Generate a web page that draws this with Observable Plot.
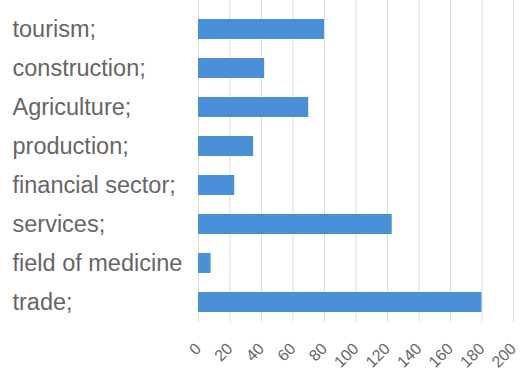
<!DOCTYPE html>
<html>
<head>
<meta charset="utf-8">
<script src="https://cdn.jsdelivr.net/npm/d3@7"></script>
<script src="https://cdn.jsdelivr.net/npm/@observablehq/plot@0.6"></script>
<style>
  html, body { margin: 0; padding: 0; background: #fff; }
  #chart svg { display: block; }
</style>
</head>
<body>
<div id="chart"></div>
<script>
const categories = ["tourism;", "construction;", "Agriculture;", "production;", "financial sector;", "services;", "field of medicine", "trade;"];
const values = [80, 42, 70, 35, 23, 123, 8, 180];
const xTicks = [0, 20, 40, 60, 80, 100, 120, 140, 160, 180, 200];

const data = categories.map((c, i) => ({category: c, value: values[i]}));

const chart = Plot.plot({
  width: 520,
  height: 370,
  marginTop: 0,
  marginLeft: 198,
  marginRight: 7,
  marginBottom: 48.5,
  style: {fontFamily: "'Liberation Sans', Arial, sans-serif", background: "#fff"},
  x: {domain: [0, 200]},
  y: {domain: categories, paddingInner: 0.5, paddingOuter: 0.25, insetTop: 8},
  marks: [
    Plot.gridX(xTicks, {stroke: "#dcdcdc", strokeOpacity: 1, strokeWidth: 1}),
    Plot.barX(data, {x: "value", y: "category", fill: "#4a90d9"}),
    Plot.axisX({ticks: xTicks, tickSize: 0, tickPadding: 24, tickRotate: -45, fontSize: 16, fill: "#666666", label: null}),
    Plot.axisY({tickSize: 0, tickPadding: 186, textAnchor: "start", fontSize: 23.5, fill: "#666666", label: null})
  ]
});
document.getElementById("chart").appendChild(chart);
</script>
</body>
</html>
